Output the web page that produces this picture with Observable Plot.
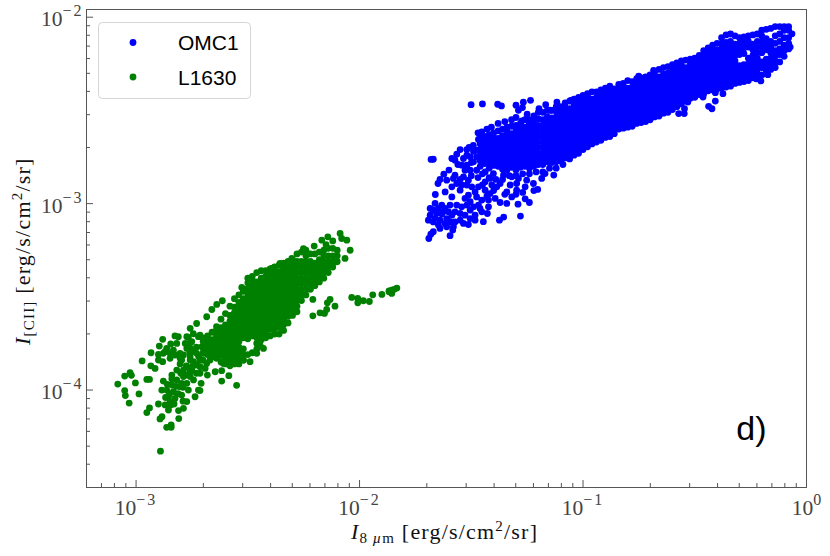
<!DOCTYPE html>
<html>
<head>
<meta charset="utf-8">
<style>
  html, body { margin: 0; padding: 0; background: #fff; }
  svg { display: block; }
</style>
<script src="https://cdn.jsdelivr.net/npm/d3@7"></script>
<script src="https://cdn.jsdelivr.net/npm/@observablehq/plot@0.6"></script>
</head>
<body>
<div id="grafico"></div>
<script>
// valores, como [log10 I_8um, log10 I_CII]
const omc1Sueltos = [
  [-1.501,-2.469],[-1.45,-2.465],[-1.382,-2.467],[-1.365,-2.476],[-1.3,-2.472],[-1.267,-2.456],[-1.235,-2.446],[-1.289,-2.499],[-1.271,-2.485],[-1.3,-2.538],[-1.274,-2.556],[-1.197,-2.49],[-1.167,-2.469],[-1.147,-2.499],[-1.117,-2.455],[-1.055,-2.446],
  [-1.67,-2.762],[-1.68,-2.763],[-1.649,-2.892],[-1.623,-2.842],[-1.661,-2.951],[-1.69,-3.187],[-1.681,-3.164],[-1.67,-3.151],[-1.595,-3.172],[-1.583,-3.142],[-1.28,-3.067],[-1.355,-3.072],[-1.374,-3.089],[-1.291,-3.003],[-1.259,-2.974],[-1.24,-2.994],[-1.203,-2.924],[-1.131,-2.847],[-1.446,-3.097],[-1.453,-2.615],[-1.45,-2.642],[-1.55,-2.71],[-1.565,-2.735],[-1.587,-2.758],[-1.573,-2.767],[-1.535,-2.758],[-1.51,-2.699],[-1.491,-2.687],[-1.468,-2.656],[-1.446,-2.669],
  [-1.684,-3.026],[-1.662,-2.999],[-1.632,-3.008],[-1.684,-3.062],[-1.655,-3.053],[-1.625,-3.044],[-1.595,-3.008],[-1.692,-3.089],[-1.67,-3.098],[-1.64,-3.089],[-1.61,-3.08],[-1.587,-3.062],[-1.573,-3.098],[-1.64,-3.133],[-1.61,-3.124],[-1.58,-3.124],[-1.543,-3.017],[-1.52,-3.008],[-1.55,-3.053],[-1.528,-3.062],[-1.49,-3.017],[-1.461,-3.026],[-1.423,-3.017],[-1.483,-3.062],[-1.453,-3.044],[-1.483,-3.089],[-1.535,-3.106],[-1.513,-3.112],[-1.428,-3.053],
  [-1.617,-2.937],[-1.587,-2.91],[-1.565,-2.892],[-1.61,-2.874],[-1.573,-2.847],[-1.535,-2.856],[-1.513,-2.874],[-1.498,-2.91],[-1.513,-2.955],[-1.528,-2.972],[-1.476,-2.964],[-1.453,-2.981],[-1.505,-2.99],[-1.438,-2.928],[-1.416,-2.946],[-1.393,-2.972],[-1.371,-2.994],[-1.341,-2.999],[-1.319,-2.964],[-1.341,-2.937],[-1.297,-2.928],[-1.259,-2.91],[-1.252,-2.874],[-1.222,-2.892],[-1.185,-2.865],[-1.17,-2.839],[-1.386,-2.91],[-1.371,-2.892],[-1.438,-2.883],[-1.416,-2.865],[-1.505,-2.821],[-1.476,-2.821],[-1.438,-2.83],[-1.401,-2.839],[-1.356,-2.847],[-1.319,-2.856],[-1.289,-2.865],
  [-1.67,-3.035],[-1.647,-3.026],[-1.617,-3.026],[-1.662,-3.08],[-1.632,-3.056],[-1.602,-3.044],[-1.573,-3.044],[-1.595,-3.097],[-1.617,-3.106],[-1.647,-3.115],[-1.55,-3.089],[-1.505,-3.035],[-1.468,-3.008],[-1.505,-3.08],[-1.565,-3.008],[-1.587,-2.964],[-1.55,-2.928],[-1.543,-2.9],[-1.58,-2.865],[-1.468,-2.91],[-1.408,-2.9],[-1.423,-2.981],[-1.297,-2.892],[-1.326,-2.9],[-1.483,-2.937],[-1.543,-2.794],[-1.52,-2.794],[-1.49,-2.776],[-1.528,-2.821],[-1.476,-2.749],[-1.505,-2.749],[-1.476,-2.713],[-1.453,-2.776],
  [-1.45,-2.84],[-1.42,-2.86],[-1.39,-2.87],[-1.36,-2.87],[-1.33,-2.85],[-1.3,-2.85],[-1.27,-2.84],[-1.24,-2.84],[-1.21,-2.83],[-1.18,-2.83],[-1.15,-2.81],[-1.12,-2.81],[-1.09,-2.79],[-1.35,-2.95],[-1.4,-2.93],[-1.45,-2.9],[-1.3,-2.95],[-1.27,-2.94],[-1.22,-2.93],[-1.47,-2.86],[-1.5,-2.85],[-1.52,-2.9],[-1.55,-2.87],[-1.43,-2.96],[-1.5,-2.78],[-1.52,-2.74],[-1.49,-2.72],[-1.52,-2.71],[-1.56,-2.79],[-1.6,-2.82],[-1.64,-2.87],
  [-1.47,-2.62],[-1.43,-2.6],[-1.41,-2.59],[-1.38,-2.57],[-1.35,-2.56],[-1.32,-2.55],[-1.25,-2.52],[-1.2,-2.51],
  [-0.173,-2.308],[-0.225,-2.33],[-0.204,-2.342],[-0.438,-2.478],[-0.423,-2.491],[-0.572,-2.517],[-0.547,-2.517],[-0.546,-2.491],[-0.408,-2.45],[-0.463,-2.428],[-0.531,-2.455],[-0.408,-2.405],[-0.374,-2.41],[-0.684,-2.285],[-0.751,-2.316],[-0.483,-2.219],[-0.065,-2.089],[-0.073,-2.16]
];

// banda densa de OMC1: cada fila es [log x, log y, log y, ...]
const omc1Banda = [
  [-1.46,-2.8,-2.77,-2.74,-2.71,-2.68,-2.65],
  [-1.44,-2.785,-2.755,-2.725,-2.695,-2.665,-2.64],
  [-1.42,-2.81,-2.78,-2.75,-2.72,-2.69,-2.66,-2.63],
  [-1.4,-2.795,-2.765,-2.735,-2.705,-2.675,-2.645,-2.62],
  [-1.38,-2.8,-2.77,-2.74,-2.71,-2.68,-2.65,-2.61],
  [-1.36,-2.815,-2.785,-2.755,-2.725,-2.695,-2.665,-2.635,-2.6],
  [-1.34,-2.82,-2.79,-2.76,-2.73,-2.7,-2.67,-2.64,-2.61,-2.59],
  [-1.32,-2.805,-2.775,-2.745,-2.715,-2.685,-2.655,-2.625,-2.585],
  [-1.3,-2.82,-2.79,-2.76,-2.73,-2.7,-2.67,-2.64,-2.61,-2.58],
  [-1.28,-2.805,-2.775,-2.745,-2.715,-2.685,-2.655,-2.625,-2.595,-2.57],
  [-1.26,-2.8,-2.77,-2.74,-2.71,-2.68,-2.65,-2.62,-2.59,-2.55],
  [-1.24,-2.81,-2.78,-2.75,-2.72,-2.69,-2.66,-2.63,-2.6,-2.57,-2.55],
  [-1.22,-2.8,-2.77,-2.74,-2.71,-2.68,-2.65,-2.62,-2.59,-2.56,-2.53],
  [-1.2,-2.79,-2.76,-2.73,-2.7,-2.67,-2.64,-2.61,-2.58,-2.545],
  [-1.18,-2.79,-2.76,-2.73,-2.7,-2.67,-2.64,-2.61,-2.58,-2.55,-2.51],
  [-1.16,-2.775,-2.745,-2.715,-2.685,-2.655,-2.625,-2.595,-2.565,-2.535,-2.5],
  [-1.14,-2.78,-2.75,-2.72,-2.69,-2.66,-2.63,-2.6,-2.57,-2.54,-2.5],
  [-1.12,-2.775,-2.745,-2.715,-2.685,-2.655,-2.625,-2.595,-2.565,-2.535,-2.505,-2.48],
  [-1.1,-2.77,-2.74,-2.71,-2.68,-2.65,-2.62,-2.59,-2.56,-2.53,-2.5,-2.48],
  [-1.08,-2.755,-2.725,-2.695,-2.665,-2.635,-2.605,-2.575,-2.545,-2.515,-2.485,-2.46],
  [-1.06,-2.76,-2.73,-2.7,-2.67,-2.64,-2.61,-2.58,-2.55,-2.52,-2.49,-2.45],
  [-1.04,-2.74,-2.71,-2.68,-2.65,-2.62,-2.59,-2.56,-2.53,-2.5,-2.47,-2.44],
  [-1.02,-2.73,-2.7,-2.67,-2.64,-2.61,-2.58,-2.55,-2.52,-2.49,-2.46,-2.43],
  [-1,-2.71,-2.68,-2.65,-2.62,-2.59,-2.56,-2.53,-2.5,-2.47,-2.44,-2.42],
  [-0.98,-2.695,-2.665,-2.635,-2.605,-2.575,-2.545,-2.515,-2.485,-2.455,-2.425,-2.41],
  [-0.96,-2.68,-2.65,-2.62,-2.59,-2.56,-2.53,-2.5,-2.47,-2.44,-2.4],
  [-0.94,-2.67,-2.64,-2.61,-2.58,-2.55,-2.52,-2.49,-2.46,-2.43,-2.4],
  [-0.92,-2.66,-2.63,-2.6,-2.57,-2.54,-2.51,-2.48,-2.45,-2.42,-2.39],
  [-0.9,-2.645,-2.615,-2.585,-2.555,-2.525,-2.495,-2.465,-2.435,-2.405,-2.38],
  [-0.88,-2.64,-2.61,-2.58,-2.55,-2.52,-2.49,-2.46,-2.43,-2.4,-2.37],
  [-0.86,-2.625,-2.595,-2.565,-2.535,-2.505,-2.475,-2.445,-2.415,-2.385],
  [-0.84,-2.6,-2.57,-2.54,-2.51,-2.48,-2.45,-2.42,-2.39,-2.36],
  [-0.82,-2.595,-2.565,-2.535,-2.505,-2.475,-2.445,-2.415,-2.385,-2.355],
  [-0.8,-2.59,-2.56,-2.53,-2.5,-2.47,-2.44,-2.41,-2.38,-2.34],
  [-0.78,-2.585,-2.555,-2.525,-2.495,-2.465,-2.435,-2.405,-2.375,-2.345],
  [-0.76,-2.57,-2.54,-2.51,-2.48,-2.45,-2.42,-2.39,-2.36,-2.33],
  [-0.74,-2.565,-2.535,-2.505,-2.475,-2.445,-2.415,-2.385,-2.355,-2.325],
  [-0.72,-2.56,-2.53,-2.5,-2.47,-2.44,-2.41,-2.38,-2.35,-2.32],
  [-0.7,-2.55,-2.52,-2.49,-2.46,-2.43,-2.4,-2.37,-2.34,-2.31],
  [-0.68,-2.535,-2.505,-2.475,-2.445,-2.415,-2.385,-2.355,-2.325,-2.295],
  [-0.66,-2.53,-2.5,-2.47,-2.44,-2.41,-2.38,-2.35,-2.32,-2.28],
  [-0.64,-2.515,-2.485,-2.455,-2.425,-2.395,-2.365,-2.335,-2.305,-2.27],
  [-0.62,-2.51,-2.48,-2.45,-2.42,-2.39,-2.36,-2.33,-2.3,-2.265],
  [-0.6,-2.495,-2.465,-2.435,-2.405,-2.375,-2.345,-2.315,-2.285,-2.255],
  [-0.58,-2.48,-2.45,-2.42,-2.39,-2.36,-2.33,-2.3,-2.27,-2.245],
  [-0.56,-2.465,-2.435,-2.405,-2.375,-2.345,-2.315,-2.285,-2.255,-2.235],
  [-0.54,-2.45,-2.42,-2.39,-2.36,-2.33,-2.3,-2.27,-2.23],
  [-0.52,-2.435,-2.405,-2.375,-2.345,-2.315,-2.285,-2.255,-2.225],
  [-0.5,-2.43,-2.4,-2.37,-2.34,-2.31,-2.28,-2.25,-2.22],
  [-0.48,-2.415,-2.385,-2.355,-2.325,-2.295,-2.265,-2.235,-2.205],
  [-0.46,-2.41,-2.38,-2.35,-2.32,-2.29,-2.26,-2.23,-2.2,-2.18],
  [-0.44,-2.395,-2.365,-2.335,-2.305,-2.275,-2.245,-2.215,-2.185,-2.165],
  [-0.42,-2.39,-2.36,-2.33,-2.3,-2.27,-2.24,-2.21,-2.18,-2.15],
  [-0.4,-2.385,-2.355,-2.325,-2.295,-2.265,-2.235,-2.205,-2.175,-2.14],
  [-0.38,-2.38,-2.35,-2.32,-2.29,-2.26,-2.23,-2.2,-2.17,-2.14,-2.11],
  [-0.36,-2.375,-2.345,-2.315,-2.285,-2.255,-2.225,-2.195,-2.165,-2.135,-2.095],
  [-0.34,-2.37,-2.34,-2.31,-2.28,-2.25,-2.22,-2.19,-2.16,-2.13,-2.09],
  [-0.32,-2.355,-2.325,-2.295,-2.265,-2.235,-2.205,-2.175,-2.145,-2.1],
  [-0.3,-2.35,-2.32,-2.29,-2.26,-2.2,-2.17,-2.14,-2.11],
  [-0.28,-2.345,-2.315,-2.285,-2.255,-2.195,-2.165,-2.135,-2.105],
  [-0.26,-2.34,-2.31,-2.28,-2.25,-2.22,-2.16,-2.13,-2.1],
  [-0.24,-2.325,-2.295,-2.265,-2.235,-2.205,-2.175,-2.145,-2.095],
  [-0.22,-2.31,-2.28,-2.25,-2.22,-2.19,-2.16,-2.13,-2.09],
  [-0.2,-2.31,-2.27,-2.24,-2.19,-2.16,-2.13,-2.1,-2.07],
  [-0.18,-2.285,-2.255,-2.225,-2.175,-2.145,-2.115,-2.065],
  [-0.16,-2.28,-2.25,-2.22,-2.19,-2.16,-2.13,-2.06],
  [-0.14,-2.27,-2.24,-2.21,-2.18,-2.14,-2.1,-2.05],
  [-0.12,-2.24,-2.2,-2.17,-2.13,-2.09,-2.05],
  [-0.1,-2.21,-2.18,-2.15,-2.11,-2.07,-2.05],
  [-0.08,-2.17,-2.14,-2.11,-2.07,-2.05]
];

const l1630Sueltos = [
  [-3.082,-3.968],[-3.051,-3.925],[-3.027,-3.907],[-3.021,-3.921],[-3.003,-3.962],[-3.051,-4.003],[-3.048,-4.03],[-2.987,-4.021],[-3.031,-4.07],[-2.952,-3.943],[-2.94,-3.943],[-2.952,-4.121],[-2.94,-4.096],[-2.891,-4.328],[-2.893,-4.155],[-2.884,-4.143],[-2.809,-4.153],[-2.863,-4.2],[-2.843,-4.2],[-2.843,-4.187],[-2.973,-3.844],[-2.934,-3.87],[-2.915,-3.884],[-2.933,-3.8],[-2.9,-3.809],[-2.881,-3.848],[-2.9,-3.839],[-2.848,-3.83],[-2.803,-3.803],[-2.803,-3.86],[-2.796,-3.839],[-2.896,-3.764],[-2.881,-3.728],[-2.845,-3.753],[-2.826,-3.71],[-2.811,-3.714],[-2.773,-3.777],[-2.833,-3.786],[-2.87,-3.794],
  [-2.758,-3.669],[-2.729,-3.643],[-2.684,-3.607],[-2.639,-3.541],[-2.614,-3.521],[-2.661,-3.568],[-2.527,-3.45],[-2.744,-3.698],[-2.714,-3.705],[-2.766,-3.718],[-2.878,-3.952],[-2.617,-3.952],[-2.585,-3.923],[-2.55,-3.975],[-2.709,-3.964],[-2.681,-3.92],[-2.684,-3.857],[-2.617,-3.896],[-2.646,-3.902],[-2.721,-4],[-2.714,-4.003],[-2.736,-4.036],
  // brazo inferior
  [-2.863,-4],[-2.84,-3.973],[-2.818,-3.946],[-2.788,-3.928],[-2.758,-3.902],[-2.729,-3.866],[-2.855,-4.036],[-2.833,-4.009],[-2.803,-3.982],[-2.773,-3.964],[-2.743,-3.946],[-2.714,-3.91],[-2.87,-4.08],[-2.848,-4.062],[-2.826,-4.045],[-2.796,-4.027],[-2.766,-4],[-2.855,-4.107],[-2.81,-4.11],[-2.788,-4.098],[-2.9,-4.075],[-2.885,-4],[-2.773,-4.062],[-2.751,-3.893],[-2.788,-3.893],[-2.691,-3.884],[-2.714,-3.839],[-2.669,-3.839],[-2.699,-3.803],[-2.758,-3.839],[-2.743,-3.794],[-2.796,-3.964],
  [-2.868,-4.04],[-2.85,-4.02],[-2.845,-4.08],[-2.83,-4.075],[-2.812,-4.02],[-2.79,-4.06],[-2.82,-3.98],[-2.79,-3.985],[-2.86,-3.97],[-2.84,-3.94],[-2.8,-3.91],[-2.775,-3.92],[-2.775,-3.87],[-2.73,-3.91],[-2.745,-3.87],[-2.72,-3.82],[-2.73,-3.77],[-2.7,-3.84],[-2.76,-3.8],[-2.78,-3.75],[-2.76,-3.75],
  // brazo superior
  [-2.863,-3.777],[-2.818,-3.75],[-2.773,-3.714],[-2.751,-3.741],[-2.721,-3.714],[-2.758,-3.777],[-2.788,-3.812],[-2.826,-3.812],[-2.803,-3.83],[-2.758,-3.821],[-2.729,-3.803],[-2.706,-3.768],[-2.676,-3.732],[-2.848,-3.803],[-2.878,-3.803],[-2.743,-3.848],[-2.714,-3.875],[-2.773,-3.875],[-2.818,-3.893],[-2.84,-3.92],[-2.758,-3.928],
  [-2.609,-3.857],[-2.579,-3.848],[-2.55,-3.839],[-2.52,-3.839],[-2.49,-3.848],[-2.46,-3.803],[-2.43,-3.777],[-2.445,-3.759],
  // punta superior
  [-2.087,-3.16],[-2.142,-3.178],[-2.169,-3.196],[-2.203,-3.228],[-2.251,-3.241],[-2.08,-3.187],[-2.057,-3.196],[-2.042,-3.25],[-2.065,-3.294],[-2.102,-3.312],[-2.303,-3.294],[-2.356,-3.321],[-2.393,-3.348],[-2.12,-3.2],[-2.15,-3.22],
  // cola a la derecha
  [-2.035,-3.503],[-2.008,-3.509],[-2.008,-3.532],[-1.983,-3.521],[-1.956,-3.525],[-1.941,-3.489],[-1.9,-3.487],[-1.868,-3.468],[-1.856,-3.464],[-1.845,-3.46],[-1.833,-3.453],[-1.856,-3.482],[-1.868,-3.473],
  [-2.209,-3.602],[-2.177,-3.586],[-2.157,-3.589],[-2.147,-3.568],[-2.11,-3.55],[-2.132,-3.514],[-2.144,-3.532],[-2.209,-3.514]
];

// nucleo denso de L1630
const l1630Banda = [
  [-2.7,-3.8,-3.77,-3.74,-3.72],
  [-2.68,-3.81,-3.78,-3.75,-3.71],
  [-2.66,-3.82,-3.79,-3.76,-3.73,-3.69],
  [-2.64,-3.83,-3.8,-3.77,-3.74,-3.71,-3.68,-3.66],
  [-2.62,-3.85,-3.815,-3.785,-3.755,-3.725,-3.695,-3.665,-3.62],
  [-2.6,-3.86,-3.83,-3.8,-3.77,-3.74,-3.71,-3.68,-3.65,-3.59],
  [-2.58,-3.87,-3.84,-3.81,-3.78,-3.75,-3.72,-3.69,-3.66,-3.63,-3.6,-3.55],
  [-2.56,-3.86,-3.825,-3.795,-3.765,-3.735,-3.705,-3.675,-3.645,-3.615,-3.585,-3.555,-3.51],
  [-2.54,-3.86,-3.83,-3.8,-3.77,-3.74,-3.71,-3.68,-3.65,-3.62,-3.59,-3.56,-3.53,-3.49],
  [-2.52,-3.84,-3.81,-3.78,-3.72,-3.69,-3.66,-3.63,-3.6,-3.57,-3.54,-3.51,-3.47],
  [-2.5,-3.81,-3.725,-3.695,-3.665,-3.635,-3.605,-3.575,-3.545,-3.515,-3.485,-3.455,-3.425,-3.4],
  [-2.48,-3.8,-3.71,-3.68,-3.65,-3.62,-3.59,-3.56,-3.53,-3.5,-3.47,-3.44,-3.41,-3.39],
  [-2.46,-3.78,-3.75,-3.72,-3.69,-3.66,-3.63,-3.6,-3.57,-3.54,-3.51,-3.48,-3.45,-3.42,-3.37],
  [-2.44,-3.73,-3.7,-3.67,-3.64,-3.61,-3.58,-3.55,-3.52,-3.49,-3.46,-3.43,-3.4,-3.36],
  [-2.42,-3.72,-3.69,-3.66,-3.63,-3.6,-3.57,-3.54,-3.51,-3.48,-3.45,-3.42,-3.39,-3.36],
  [-2.4,-3.71,-3.675,-3.645,-3.615,-3.585,-3.555,-3.525,-3.495,-3.465,-3.435,-3.405,-3.375,-3.35],
  [-2.38,-3.7,-3.67,-3.64,-3.61,-3.58,-3.55,-3.52,-3.49,-3.46,-3.43,-3.4,-3.37,-3.34],
  [-2.36,-3.7,-3.665,-3.635,-3.605,-3.575,-3.545,-3.515,-3.485,-3.455,-3.425,-3.395,-3.365,-3.33],
  [-2.34,-3.68,-3.65,-3.62,-3.59,-3.56,-3.53,-3.5,-3.47,-3.44,-3.41,-3.38,-3.35,-3.32],
  [-2.32,-3.64,-3.605,-3.575,-3.545,-3.515,-3.485,-3.455,-3.425,-3.395,-3.365,-3.335,-3.31],
  [-2.3,-3.6,-3.57,-3.54,-3.51,-3.48,-3.45,-3.42,-3.39,-3.36,-3.33,-3.3],
  [-2.28,-3.58,-3.55,-3.52,-3.49,-3.46,-3.43,-3.4,-3.37,-3.34,-3.31,-3.27],
  [-2.26,-3.52,-3.49,-3.46,-3.43,-3.4,-3.37,-3.34,-3.31,-3.26],
  [-2.24,-3.49,-3.46,-3.43,-3.4,-3.37,-3.34,-3.31,-3.28,-3.25],
  [-2.22,-3.46,-3.43,-3.4,-3.37,-3.34,-3.31,-3.27],
  [-2.2,-3.44,-3.41,-3.38,-3.35,-3.32,-3.27],
  [-2.18,-3.42,-3.39,-3.36,-3.33,-3.3,-3.26],
  [-2.16,-3.4,-3.37,-3.34,-3.31,-3.28,-3.25],
  [-2.14,-3.37,-3.34,-3.31,-3.28,-3.24],
  [-2.12,-3.34,-3.31,-3.28,-3.24],
  [-2.1,-3.31,-3.28,-3.25]
];

const seriesNames = ["OMC1", "L1630"];
const seriesColors = ["#0000ff", "#008000"];

const xDomain = [6e-4, 1];
const yDomain = [3e-5, 1.1e-2];
const xMajorTicks = [1e-3, 1e-2, 1e-1, 1];
const yMajorTicks = [1e-4, 1e-3, 1e-2];
const xMinorTicks = [7e-4, 8e-4, 9e-4, 2e-3, 3e-3, 4e-3, 5e-3, 6e-3, 7e-3, 8e-3, 9e-3, 2e-2, 3e-2, 4e-2, 5e-2, 6e-2, 7e-2, 8e-2, 9e-2, 0.2, 0.3, 0.4, 0.5, 0.6, 0.7, 0.8, 0.9];
const yMinorTicks = [4e-5, 5e-5, 6e-5, 7e-5, 8e-5, 9e-5, 2e-4, 3e-4, 4e-4, 5e-4, 6e-4, 7e-4, 8e-4, 9e-4, 2e-3, 3e-3, 4e-3, 5e-3, 6e-3, 7e-3, 8e-3, 9e-3];

const W = 830, H = 556;
const margen = {top: 9, right: 24, bottom: 69, left: 86};
const serif = "'Liberation Serif', serif";
const sans = "'Liberation Sans', sans-serif";
const frameColor = "#555";
const radio = 3.4;

const exponente = d => String(Math.round(Math.log10(d))).replace("-", "\u2212");

// filas [x, y, y, ...] + sueltos -> lista de puntos en unidades reales
const armarPuntos = (sueltos, banda) =>
    sueltos.concat(banda.flatMap(([x, ...ys]) => ys.map(y => [x, y]))).map(([x, y]) => ({x: 10 ** x, y: 10 ** y}));

let chart = Plot.plot({
    width: W,
    height: H,
    marginTop: margen.top,
    marginRight: margen.right,
    marginBottom: margen.bottom,
    marginLeft: margen.left,
    style: {background: "#fff"},
    x: {type: "log", domain: xDomain, label: null},
    y: {type: "log", domain: yDomain, label: null},
    marks: [
        Plot.dot(armarPuntos(omc1Sueltos, omc1Banda), {x: "x", y: "y", r: radio, fill: seriesColors[0]}),
        Plot.dot(armarPuntos(l1630Sueltos, l1630Banda), {x: "x", y: "y", r: radio, fill: seriesColors[1]}),
        // ticks hacia adentro
        Plot.ruleX(xMajorTicks, {x: d => d, insetTop: H - margen.top - margen.bottom - 7, stroke: frameColor}),
        Plot.ruleX(xMinorTicks, {x: d => d, insetTop: H - margen.top - margen.bottom - 4, stroke: frameColor}),
        Plot.ruleY(yMajorTicks, {y: d => d, insetRight: W - margen.left - margen.right - 7, stroke: frameColor}),
        Plot.ruleY(yMinorTicks, {y: d => d, insetRight: W - margen.left - margen.right - 4, stroke: frameColor}),
        Plot.axisX(xMajorTicks, {anchor: "bottom", tickSize: 0, tickPadding: 12, tickFormat: exponente, fontSize: 21.5, fontFamily: serif, fill: "#444", label: null}),
        Plot.axisY(yMajorTicks, {anchor: "left", tickSize: 0, tickPadding: 3, tickFormat: exponente, fontSize: 21.5, fontFamily: serif, fill: "#444", label: null, dy: 2}),
        Plot.frame({stroke: frameColor}),
        Plot.text(["d)"], {frameAnchor: "bottom-right", dx: -40, dy: -48, fontFamily: sans, fontSize: 34, fill: "#000"})
    ]
});

let svg = d3.select(chart);

// superindices de los ticks: el texto del eje trae solo el exponente
svg.selectAll('g[aria-label="x-axis tick label"] text, g[aria-label="y-axis tick label"] text').each(function () {
    const exp = d3.select(this).text();
    const t = d3.select(this).text("10");
    t.append("tspan").attr("dy", -10).attr("font-size", 16).attr("letter-spacing", exp.length > 1 ? 2 : 0).text(exp);
});

// titulos de ejes
function etiquetaEje(g, sub) {
    g.attr("font-family", serif).attr("font-size", 22).attr("letter-spacing", 1.2).attr("fill", "#111").attr("text-anchor", "start");
    g.append("tspan").attr("font-style", "italic").text("I");
    g.append("tspan").attr("font-size", 15).attr("dy", 4).html(sub);
    g.append("tspan").attr("dy", -4).text("\u00a0[erg/s/cm");
    g.append("tspan").attr("font-size", 15).attr("dy", -8).text("2");
    g.append("tspan").attr("dy", 8).text("/sr]");
}
etiquetaEje(svg.append("text").attr("x", 351).attr("y", 539), '8\u2009<tspan font-style="italic">\u00b5</tspan>m');
etiquetaEje(svg.append("text").attr("transform", "translate(30,345) rotate(-90)"), "[CII]");

// leyenda
let legend = svg.append("g").attr("text-anchor", "start");
legend.append("rect").attr("x", 98.5).attr("y", 22.5).attr("width", 152).attr("height", 76).attr("rx", 4)
    .attr("fill", "#fff").attr("fill-opacity", 0.8).attr("stroke", "#d5d5d5");
seriesNames.forEach((nombre, i) => {
    const yy = 42.5 + i * 34.5;
    legend.append("circle").attr("cx", 133).attr("cy", yy).attr("r", radio).attr("fill", seriesColors[i]);
    legend.append("text").attr("x", 178).attr("y", yy + 7.5).attr("font-family", sans).attr("font-size", 21).attr("fill", "#000").text(nombre);
});

d3.select("#grafico").append(() => chart);
</script>
</body>
</html>
